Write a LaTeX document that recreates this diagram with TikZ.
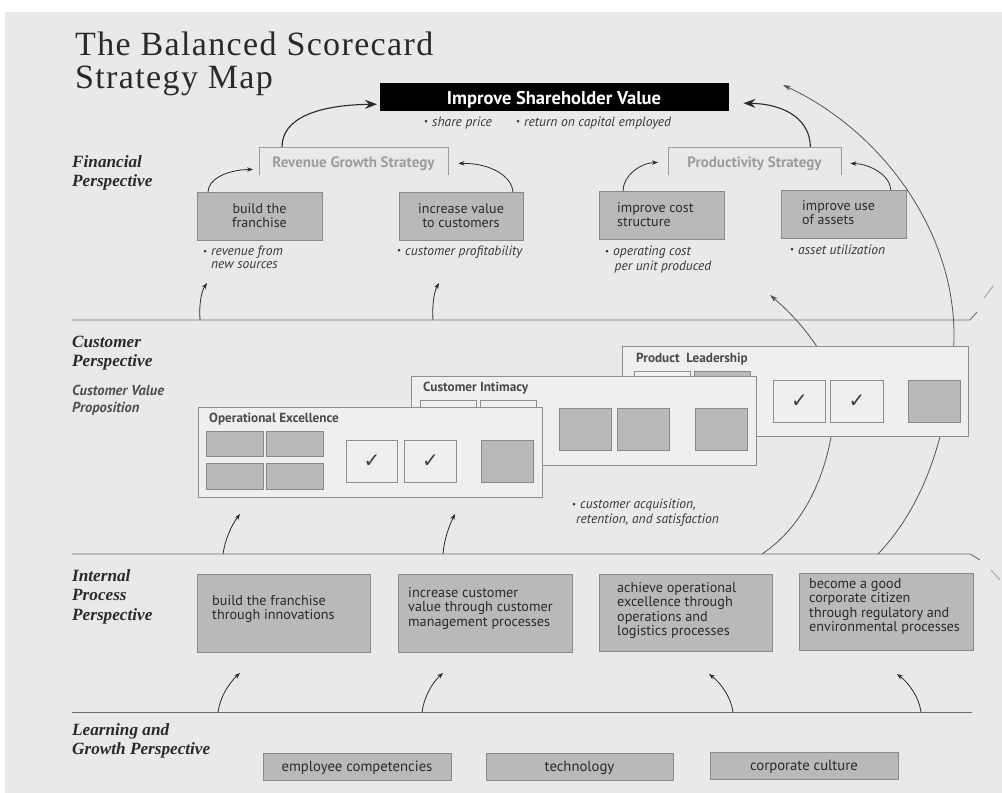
\documentclass[tikz,border=0pt]{standalone}
\usepackage{fontspec}
\setmainfont{Liberation Serif}
\newfontfamily\sansf{PT Sans}
\newfontfamily\titlef[LetterSpace=4]{Liberation Serif}
\newfontfamily\symf{DejaVu Sans}
\usetikzlibrary{arrows.meta}
\definecolor{pagebg}{HTML}{E9E9E9}
\definecolor{boxfill}{HTML}{B9B9B9}
\definecolor{boxline}{HTML}{8A8A8A}
\definecolor{panelfill}{HTML}{EFEFEF}
\definecolor{panelline}{HTML}{8E8E8E}
\definecolor{inkc}{HTML}{2A2A2A}
\definecolor{rulec}{HTML}{6E6E6E}
\definecolor{brackc}{HTML}{9C9C9C}
\definecolor{notec}{HTML}{383838}
\definecolor{cvpc}{HTML}{505050}
\newcommand{\bul}{\makebox[8pt][l]{\raisebox{0.2ex}{\fontsize{9}{9}\selectfont\upshape •}}}
\begin{document}
\begin{tikzpicture}[x=1pt,y=-1pt,
  gbox/.style={draw=boxline, fill=boxfill, line width=0.9pt, inner sep=0pt, anchor=north west},
  panel/.style={draw=panelline, fill=panelfill, line width=0.8pt, inner sep=0pt, anchor=north west},
  chk/.style={draw=panelline, fill=panelfill, line width=0.8pt, inner sep=0pt, anchor=north west,
     font=\symf\fontsize{20}{20}\selectfont, text=inkc!90},
  ftext/.style={font=\sansf\fontsize{14}{14.5}\selectfont, text=inkc, inner sep=0pt},
  ltext/.style={font=\sansf\fontsize{14.7}{15}\selectfont, text=inkc, inner sep=0pt},
  itext/.style={font=\sansf\fontsize{14.2}{14.5}\selectfont, text=inkc, inner sep=0pt, align=left, anchor=north west},
  note/.style={font=\sansf\itshape\fontsize{13.5}{13}\selectfont, text=notec, inner sep=0pt},
  persp/.style={font=\bfseries\itshape\fontsize{17.2}{19.5}\selectfont, text=inkc, inner sep=0pt, align=left, anchor=north west},
  plabel/.style={font=\sansf\bfseries\fontsize{13.2}{14}\selectfont, text=inkc!85, inner sep=0pt, anchor=base west},
  brack/.style={draw=brackc, line width=1pt},
  bracktext/.style={font=\sansf\bfseries\fontsize{15}{16}\selectfont, text=brackc, inner sep=0pt, anchor=base},
  rule/.style={draw=rulec, line width=0.9pt},
  arr/.style={draw=inkc, line width=0.8pt, -{Stealth[length=6pt,width=4.5pt]}},
  bigarr/.style={draw=inkc, line width=1.1pt, -{Stealth[length=12pt,width=9pt,inset=4pt]}},
  arcarr/.style={draw=inkc!80, line width=0.8pt, -{Stealth[length=8pt,width=5pt]}},
]
\useasboundingbox (0,0) rectangle (1002,793);
\fill[pagebg] (5,12) rectangle (1002,793);

% title
\node[anchor=base west, font=\titlef\fontsize{34}{40}\selectfont, text=inkc, inner sep=0pt] (title1) at (75,55) {The Balanced Scorecard};
\node[anchor=base west, font=\titlef\fontsize{34}{40}\selectfont, text=inkc, inner sep=0pt] (title2) at (75,88) {Strategy Map};

% perspective labels
\node[persp] (lfin) at (72,153.35) {\strut Financial\\\strut Perspective};
\node[persp] (lcus) at (72,333.35) {\strut Customer\\\strut Perspective};
\node[font=\sansf\bfseries\itshape\fontsize{14.5}{17}\selectfont, text=cvpc, inner sep=0pt, align=left, anchor=north west] (lcvp) at (72,383.1) {\strut Customer Value\\\strut Proposition};
\node[persp] (lint) at (72,567.35) {\strut Internal\\\strut Process\\\strut Perspective};
\node[persp] (llrn) at (72,721.35) {\strut Learning and\\\strut Growth Perspective};

% separator lines
\draw[rule] (72,320) -- (970,320) -- (977,312);
\draw[rule] (72,554) -- (970,554) -- (980,560);
\draw[rule] (72,712) -- (972,712);
\draw[draw=rulec!60, line width=1pt] (984,298) -- (993,286);
\draw[draw=rulec!60, line width=1pt] (991,570) -- (1000,580);

% named free ends
\coordinate (l1a) at (200,320); \coordinate (l1b) at (433,320);
\coordinate (f1) at (207,283);  \coordinate (f2) at (439,283);
\coordinate (pf) at (770,295);  \coordinate (tipR) at (783,85);
\coordinate (l2a) at (223,554); \coordinate (l2b) at (443,554);
\coordinate (l2c) at (762,554); \coordinate (l2d) at (878,554);
\coordinate (c1) at (240,514);  \coordinate (c2) at (455,514);
\coordinate (l3a) at (218,712); \coordinate (l3b) at (422,712);
\coordinate (l3c) at (733,712); \coordinate (l3d) at (921,712);
\coordinate (i1) at (240,673);  \coordinate (i2) at (443,673);
\coordinate (i3) at (709,674);  \coordinate (i4) at (897,674);

% long arcs (behind the panels)
\draw[arcarr] (l2c) .. controls (820,515) and (834,440) .. (835,400) .. controls (836,365) and (805,325) .. (pf);
\draw[arcarr] (l2d) .. controls (925,505) and (950,430) .. (954,340) .. controls (956,230) and (880,130) .. (tipR);

% top objective
\node[fill=black, minimum width=349, minimum height=28, inner sep=0pt, anchor=north west] (top) at (380,83) {};
\node[anchor=base, font=\sansf\bfseries\fontsize{18.5}{20}\selectfont, text=white, inner sep=0pt] (topt) at (554,104) {Improve Shareholder Value};
\node[note, anchor=base west] (n0a) at (424,126) {\bul share price};
\node[note, anchor=base west] (n0b) at (516,126) {\bul return on capital employed};

% strategy brackets
\node[minimum width=189, minimum height=28, inner sep=0pt, anchor=north west] (rgs) at (259,147) {};
\draw[brack] (rgs.south west) -- (rgs.north west) -- (rgs.north east) -- (rgs.south east);
\node[bracktext] (rgst) at (353.5,167) {Revenue Growth Strategy};
\node[minimum width=173, minimum height=28, inner sep=0pt, anchor=north west] (pds) at (668,147) {};
\draw[brack] (pds.south west) -- (pds.north west) -- (pds.north east) -- (pds.south east);
\node[bracktext] (pdst) at (754.5,167) {Productivity Strategy};

% financial objectives
\node[gbox, minimum width=125, minimum height=48] (fb1) at (197,192) {};
\node[gbox, minimum width=124, minimum height=48] (fb2) at (399,192) {};
\node[gbox, minimum width=125, minimum height=48] (fb3) at (599,191) {};
\node[gbox, minimum width=125, minimum height=48] (fb4) at (781,190) {};
\node[ftext, align=center, anchor=north] (fb1t) at (259.5,202.85) {\strut build the\\\strut franchise};
\node[ftext, align=center, anchor=north] (fb2t) at (461,202.85) {\strut increase value\\\strut to customers};
\node[ftext, align=left, anchor=north west] (fb3t) at (617,201.85) {\strut improve cost\\\strut structure};
\node[ftext, align=left, anchor=north west] (fb4t) at (802,199.85) {\strut improve use\\\strut of assets};

\node[note, align=left, anchor=north west] (n1) at (203,245.9) {\strut\bul revenue from\\\strut\hspace*{8pt}new sources};
\node[note, anchor=base west] (n2) at (397,255) {\bul customer profitability};
\node[note, align=left, anchor=north west] (n3) at (605,245.9) {\strut\bul operating cost\\\strut\hspace*{9.5pt}per unit produced};
\node[note, anchor=base west] (n4) at (790,254) {\bul asset utilization};

% financial arrows
\draw[arr] ([xshift=11pt]fb1.north west) .. controls (208,180) and (225,170) .. ([xshift=-6pt,yshift=6pt]rgs.south west);
\draw[arr] ([xshift=-11pt]fb2.north east) .. controls (512,176) and (490,163) .. ([xshift=10pt,yshift=12pt]rgs.south east);
\draw[arr] ([xshift=24pt]fb3.north west) .. controls (623,176) and (640,163) .. ([xshift=-10pt,yshift=13pt]pds.south west);
\draw[arr] ([xshift=-16pt]fb4.north east) .. controls (890,175) and (870,164) .. ([xshift=9pt,yshift=12pt]pds.south east);
\draw[bigarr] ([xshift=23pt]rgs.north west) .. controls (282,118) and (318,105) .. ([xshift=-3pt,yshift=-7pt]top.west);
\draw[bigarr] ([xshift=-31pt]pds.north east) .. controls (810,120) and (786,104) .. ([xshift=14pt,yshift=-6pt]top.east);

% customer to financial arrows
\draw[arr] (l1a) .. controls (199,305) and (201,292) .. (f1);
\draw[arr] (l1b) .. controls (432,305) and (434,292) .. (f2);

% customer value proposition panels
\node[panel, minimum width=346, minimum height=90] (pl) at (622,346) {};
\node[plabel] (plt) at (636,362) {Product\ \ Leadership};
\node[panel, minimum width=56, minimum height=24] (plw) at (634,371) {};
\node[gbox, minimum width=56, minimum height=24] (plg) at (694,371) {};
\node[chk, minimum width=52, minimum height=42] (plc1) at (773,380) {✓};
\node[chk, minimum width=53, minimum height=42] (plc2) at (830,380) {✓};
\node[gbox, minimum width=52, minimum height=42] (plq) at (908,380) {};

\node[panel, minimum width=345, minimum height=89] (ci) at (411,376) {};
\node[plabel] (cit) at (423,391) {Customer Intimacy};
\node[panel, minimum width=56, minimum height=26] (ciw1) at (420,400) {};
\node[panel, minimum width=56, minimum height=26] (ciw2) at (480,400) {};
\node[gbox, minimum width=52, minimum height=42] (ciq1) at (559,408) {};
\node[gbox, minimum width=52, minimum height=42] (ciq2) at (617,408) {};
\node[gbox, minimum width=52, minimum height=42] (ciq3) at (695,408) {};

\node[panel, minimum width=344, minimum height=90] (oe) at (198,407) {};
\node[plabel] (oet) at (209,422) {Operational Excellence};
\node[gbox, minimum width=57, minimum height=25] (oeg1) at (206,431) {};
\node[gbox, minimum width=57, minimum height=25] (oeg2) at (266,431) {};
\node[gbox, minimum width=57, minimum height=26] (oeg3) at (206,463) {};
\node[gbox, minimum width=57, minimum height=26] (oeg4) at (266,463) {};
\node[chk, minimum width=51, minimum height=42] (oec1) at (346,440) {✓};
\node[chk, minimum width=52, minimum height=42] (oec2) at (404,440) {✓};
\node[gbox, minimum width=52, minimum height=42] (oeq) at (481,440) {};

\node[note, align=left, anchor=north west] (n5) at (572,498.9) {\strut\bul customer acquisition,\\\strut\hspace*{4pt}retention, and satisfaction};

% internal to customer arrows
\draw[arr] (l2a) .. controls (225,540) and (231,526) .. (c1);
\draw[arr] (l2b) .. controls (444,540) and (449,526) .. (c2);

% internal process boxes
\node[gbox, minimum width=173, minimum height=78] (ib1) at (197,574) {};
\node[gbox, minimum width=174, minimum height=78] (ib2) at (398,574) {};
\node[gbox, minimum width=173, minimum height=77] (ib3) at (599,574) {};
\node[gbox, minimum width=174, minimum height=77] (ib4) at (799,573) {};
\node[itext] (ib1t) at (212,594.85) {\strut build the franchise\\\strut through innovations};
\node[itext] (ib2t) at (408,586.85) {\strut increase customer\\\strut value through customer\\\strut management processes};
\node[itext] (ib3t) at (617,581.85) {\strut achieve operational\\\strut excellence through\\\strut operations and\\\strut logistics processes};
\node[itext] (ib4t) at (809,577.85) {\strut become a good\\\strut corporate citizen\\\strut through regulatory and\\\strut environmental processes};

% learning to internal arrows
\draw[arr] (l3a) .. controls (220,698) and (228,684) .. (i1);
\draw[arr] (l3b) .. controls (424,698) and (431,684) .. (i2);
\draw[arr] (l3c) .. controls (731,698) and (722,684) .. (i3);
\draw[arr] (l3d) .. controls (919,698) and (910,684) .. (i4);

% learning and growth boxes
\node[gbox, minimum width=188, minimum height=27] (lb1) at (263,753) {};
\node[gbox, minimum width=187, minimum height=27] (lb2) at (486,753) {};
\node[gbox, minimum width=188, minimum height=27] (lb3) at (710,752) {};
\node[ltext, anchor=base] (lb1t) at (357,771) {employee competencies};
\node[ltext, anchor=base] (lb2t) at (579.5,771) {technology};
\node[ltext, anchor=base] (lb3t) at (804,770) {corporate culture};
\end{tikzpicture}
\end{document}
